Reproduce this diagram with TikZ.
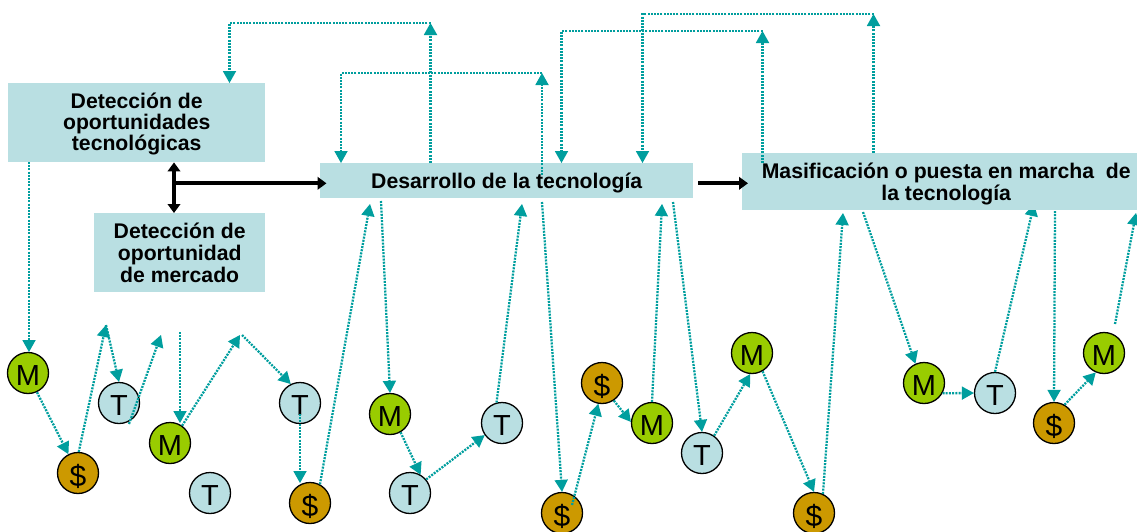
\documentclass[tikz,border=0pt]{standalone}
\usepackage{fontspec}
\setmainfont{Liberation Sans}
\usetikzlibrary{arrows.meta}
\definecolor{boxc}{HTML}{B9DFE2}
\definecolor{teal1}{HTML}{009E9E}
\definecolor{mc}{HTML}{99CC00}
\definecolor{dc}{HTML}{CC9900}
\tikzset{
 x=1pt,y=-1pt,
 boxs/.style={fill=boxc,inner sep=0pt,align=center,font=\bfseries\fontsize{21.2}{21}\selectfont,anchor=north west},
 coin/.style={circle,draw=black,line width=1.3pt,minimum size=41pt,inner sep=0pt,text height=24pt,text depth=0pt,font=\fontsize{29}{29}\selectfont},
 mk/.style={coin,fill=mc},
 dk/.style={coin,fill=dc,text height=27.4pt,font=\fontsize{30}{30}\selectfont},
 tk/.style={coin,fill=boxc},
 link/.style={draw=teal1,line width=2.3pt,dash pattern=on 2pt off 1.2pt},
 arr/.style={link,-{Triangle[length=12pt,width=13.5pt,fill=teal1,line width=0pt,sep=0pt]}},
 bk/.style={draw=black,line width=4.2pt}
}
\begin{document}
\begin{tikzpicture}
\useasboundingbox (0,0) rectangle (1137,531);
\clip (0,0) rectangle (1137,531);
% boxes behind connectors
\node[boxs,minimum width=257pt,minimum height=79pt] (b1) at (8,83) {\rule{0pt}{17.3pt}Detección de\\oportunidades\\tecnológicas};
\node[boxs,minimum width=171pt,minimum height=79pt,font=\bfseries\fontsize{21.2}{22}\selectfont] (b2) at (94,213) {Detección de\\oportunidad\\de mercado};
\node[boxs,minimum width=373pt,minimum height=35pt] (b3) at (320,163) {\rule{0pt}{20pt}Desarrollo de la tecnología};
% coins
\node[mk] (m1) at (28,373) {M};
\node[dk] (d1) at (78,473) {\$};
\node[tk] (t1) at (119,403) {T};
\node[mk] (m2) at (170,443) {M};
\node[tk] (t2) at (210,493) {T};
\node[tk] (t3) at (300,403) {T};
\node[dk] (d2) at (310,503) {\$};
\node[mk] (m3) at (390,414) {M};
\node[tk] (t4) at (502,423) {T};
\node[tk] (t5) at (410,493) {T};
\node[dk] (d3) at (562,513) {\$};
\node[dk] (d4) at (602,383) {\$};
\node[mk] (m4) at (652,423) {M};
\node[tk] (t6) at (702,453) {T};
\node[mk] (m5) at (752,353) {M};
\node[dk] (d5) at (814,513) {\$};
\node[mk] (m6) at (924,383) {M};
\node[tk] (t7) at (995,393) {T};
\node[dk] (d6) at (1054,423) {\$};
\node[mk] (m7) at (1104,353) {M};
% free ends
\foreach \n/\p in {a/{106,325},b/{129,424},c/{161,335},e/{180,332},e2/{180,423},f/{240,335},f2/{242,335},g/{370,204},h/{381,201},i/{522,204},j/{430.5,23},k/{229.5,23},l/{542,73},n/{341,73},o/{542,175},q/{542,202},r/{662,204},s/{673,202},u/{843,213},v/{863,212},w/{1034,204},y/{1055,211},z/{1115,324},aa/{1136,213},ab/{762.5,31},ac/{561.5,31},ad/{873.5,14},ae/{642.5,14},af/{29,162},af2/{29,352},ag/{430.5,163},ah/{229.5,83},ai/{341,163},aj/{561.5,163},ak/{642.5,163},al/{762.5,163},am/{873.5,153},an/{174,183.3},ao/{300,414},ap/{300,483},aq/{572,505},ar/{698,183.3},as/{748,183.3},at/{326.5,183.3}}
 {\coordinate (\n) at (\p);}
% connectors
\draw[arr] (af) -- (af2);
\draw[arr] (m1.-65) -- (d1.117);
\draw[arr] (d1.88) -- (a);
\draw[arr] (a) -- (t1.north);
\draw[arr] (b) -- (c);
\draw[arr] (e) -- (e2);
\draw[arr] (m2.55) -- (f);
\draw[arr] (f2) -- (t3.116);
\draw[arr] (ao) -- (ap);
\draw[arr] (d2.62) -- (g);
\draw[arr] (h) -- (m3.north);
\draw[arr] (m3.-60) -- (t5.60);
\draw[arr] (t5.40) -- (t4.-145);
\draw[arr] (t4.105) -- (i);
\draw[arr] (ag) -- (j);
\draw[arr] (j) -- (k) -- (ah);
\draw[arr] (o) -- (l);
\draw[arr] (l) -- (n) -- (ai);
\draw[arr] (q) -- (d3.north);
\draw[arr] (aq) -- (d4.-100);
\draw[arr] (d4.-56) -- (m4.177);
\draw[arr] (m4.north) -- (r);
\draw[arr] (s) -- (t6.north);
\draw[arr] (t6.55) -- (m5.-95);
\draw[arr] (m5.-60) -- (d5.north);
\draw[arr] (d5.65) -- (u);
\draw[arr] (v) -- (m6.114);
\draw[arr] (m6.-29) -- (t7.west);
\draw[arr] (t7.north) -- (w);
\draw[arr] (y) -- (d6.north);
\draw[arr] (d6.60) -- (m7.-113);
\draw[arr] (z) -- (aa);
\draw[arr] (am) -- (ad);
\draw[arr] (ad) -- (ae) -- (ak);
% box that hides connector ends
\node[boxs,minimum width=395pt,minimum height=57pt,font=\bfseries\fontsize{21.2}{22}\selectfont] (b4) at (742,153) {\hspace*{13pt}\rule{0pt}{20pt}Masificación o puesta en marcha~ de\\\hspace*{13pt}la tecnología};
% connector that runs over that box
\draw[arr] (al) -- (ab);
\draw[arr] (ab) -- (ac) -- (aj);
% black arrows
\draw[bk,{Triangle[length=9pt,width=12.5pt]}-{Triangle[length=9pt,width=12.5pt]}] (b1.south -| an) -- (b2.north -| an);
\draw[bk,-{Triangle[length=9pt,width=12.5pt]}] (an) -- (at);
\draw[bk,-{Triangle[length=9pt,width=12.5pt]}] (ar) -- (as);
\end{tikzpicture}
\end{document}
